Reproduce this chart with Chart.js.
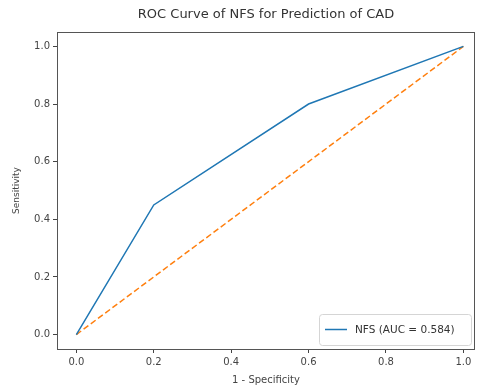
<!DOCTYPE html>
<html>
<head>
<meta charset="utf-8">
<script src="https://cdn.jsdelivr.net/npm/chart.js@4"></script>
<style>
  html, body { margin: 0; padding: 0; background: #fff; }
  #wrap { width: 477px; height: 385px; }
</style>
</head>
<body>
<div id="wrap"><canvas id="roc-chart" width="477" height="385"></canvas></div>
<script>
// ROC points
const fprValues = [0.0, 0.2, 0.6, 1.0];
const tprValues = [0.0, 0.45, 0.8, 1.0];
const chanceX = [0.0, 1.0];
const chanceY = [0.0, 1.0];
const xTickValues = [0.0, 0.2, 0.4, 0.6, 0.8, 1.0];
const yTickValues = [0.0, 0.2, 0.4, 0.6, 0.8, 1.0];
const curveLabel = 'NFS (AUC = 0.584)';
const chartTitle = 'ROC Curve of NFS for Prediction of CAD';

const FONT = 'DejaVu Sans';
const textColor = '#444';

// frame, title and the little legend box in the lower right corner
const decorPlugin = {
    id: 'decor',
    afterDraw(chart) {
        const ctx = chart.ctx;
        const a = chart.chartArea;
        ctx.save();
        ctx.strokeStyle = '#555';
        ctx.lineWidth = 1;
        ctx.strokeRect(Math.round(a.left) + 0.5, Math.round(a.top) + 0.5,
            Math.round(a.right - a.left) - 1, Math.round(a.bottom - a.top));

        ctx.fillStyle = '#333';
        ctx.font = '13px "' + FONT + '"';
        ctx.textAlign = 'center';
        ctx.textBaseline = 'middle';
        ctx.fillText(chartTitle, (a.left + a.right) / 2, 15);

        // legend
        const w = 152, h = 31;
        const x = a.right - 4 - w, y = a.bottom - 4 - h;
        ctx.beginPath();
        ctx.roundRect(x + 0.5, y + 0.5, w, h, 3);
        ctx.fillStyle = 'rgba(255,255,255,0.8)';
        ctx.fill();
        ctx.strokeStyle = '#d5d5d5';
        ctx.stroke();
        const ds = chart.data.datasets[0];
        ctx.beginPath();
        ctx.moveTo(x + 6, y + h / 2);
        ctx.lineTo(x + 28, y + h / 2);
        ctx.strokeStyle = ds.borderColor;
        ctx.lineWidth = 1.5;
        ctx.stroke();
        ctx.fillStyle = '#333';
        ctx.font = '10.5px "' + FONT + '"';
        ctx.textAlign = 'left';
        ctx.fillText(ds.label, x + 36, y + h / 2 + 0.5);
        ctx.restore();
    }
};

const ctx = document.getElementById('roc-chart').getContext('2d');
new Chart(ctx, {
    type: 'scatter',
    data: {
        datasets: [
            {
                label: curveLabel,
                data: fprValues.map((v, i) => ({ x: v, y: tprValues[i] })),
                showLine: true,
                borderColor: '#1f77b4',
                backgroundColor: '#1f77b4',
                borderWidth: 1.5,
                pointRadius: 0,
                tension: 0
            },
            {
                label: 'chance',
                data: chanceX.map((v, i) => ({ x: v, y: chanceY[i] })),
                showLine: true,
                borderColor: '#ff7f0e',
                backgroundColor: '#ff7f0e',
                borderWidth: 1.5,
                borderDash: [6, 3],
                pointRadius: 0
            }
        ]
    },
    options: {
        responsive: false,
        animation: false,
        layout: { padding: { top: 32, right: 2, left: 0, bottom: 0 } },
        plugins: {
            legend: { display: false },
            tooltip: { enabled: false },
            title: { display: false }
        },
        scales: {
            x: {
                type: 'linear',
                min: -0.05,
                max: 1.03,
                afterBuildTicks: s => { s.ticks = xTickValues.map(v => ({ value: v })); },
                afterFit: s => { s.height = 36; },
                grid: { drawOnChartArea: false, tickLength: 4, tickColor: '#444', drawTicks: true },
                border: { display: false },
                ticks: {
                    color: textColor,
                    font: { family: FONT, size: 10 },
                    padding: 3,
                    maxRotation: 0,
                    callback: v => v.toFixed(1)
                },
                title: {
                    display: true,
                    text: '1 - Specificity',
                    color: textColor,
                    font: { family: FONT, size: 10 },
                    padding: { top: 0, bottom: -1 }
                }
            },
            y: {
                type: 'linear',
                min: -0.05,
                max: 1.05,
                afterBuildTicks: s => { s.ticks = yTickValues.map(v => ({ value: v })); },
                afterFit: s => { s.width = 57; },
                grid: { drawOnChartArea: false, tickLength: 4, tickColor: '#444' },
                border: { display: false },
                ticks: {
                    color: textColor,
                    font: { family: FONT, size: 10 },
                    padding: 3,
                    callback: v => v.toFixed(1)
                },
                title: {
                    display: true,
                    text: 'Sensitivity',
                    color: textColor,
                    font: { family: FONT, size: 9 },
                    padding: { top: 11, bottom: 4 }
                }
            }
        }
    },
    plugins: [decorPlugin]
});
</script>
</body>
</html>
